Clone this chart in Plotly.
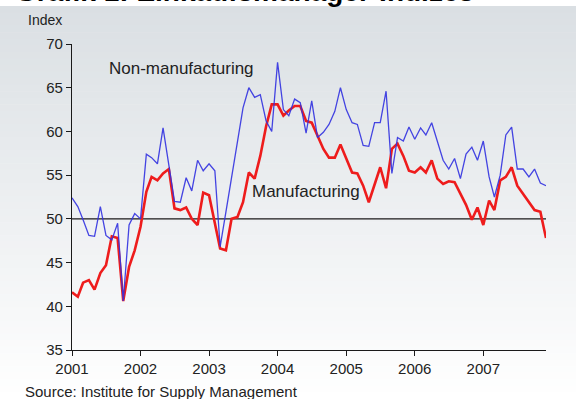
import plotly.graph_objects as go
import pandas as pd

# ---------------- data ----------------
months = pd.date_range("2001-01-01", periods=84, freq="MS").strftime("%Y-%m-%d").tolist()

manufacturing = [
    41.6, 41.1, 42.7, 43.0, 41.9, 43.8, 44.7, 48.0, 47.8, 40.6, 44.5, 46.4,   # 2001
    49.1, 53.1, 54.8, 54.4, 55.2, 55.7, 51.2, 51.0, 51.3, 50.0, 49.3, 53.0,   # 2002
    52.7, 49.7, 46.6, 46.4, 50.0, 50.2, 51.9, 55.3, 54.6, 57.2, 60.6, 63.1,   # 2003
    63.1, 61.8, 62.4, 62.9, 62.9, 61.2, 61.0, 59.5, 58.0, 57.0, 57.0, 58.5,   # 2004
    56.9, 55.3, 55.2, 53.8, 51.9, 54.0, 55.9, 53.5, 58.0, 58.6, 57.2, 55.5,   # 2005
    55.3, 55.9, 55.3, 56.7, 54.6, 54.0, 54.3, 54.2, 52.9, 51.6, 49.9, 51.3,   # 2006
    49.3, 52.1, 51.0, 54.4, 54.8, 55.9, 53.8, 52.9, 51.9, 51.0, 50.8, 47.8,   # 2007
]

non_manufacturing = [
    52.4, 51.4, 49.9, 48.1, 48.0, 51.4, 48.1, 47.6, 49.5, 40.6, 49.3, 50.6,   # 2001
    50.0, 57.4, 57.0, 56.3, 60.4, 55.9, 52.0, 51.9, 54.7, 53.2, 56.7, 55.5,   # 2002
    56.3, 55.5, 46.8, 50.8, 54.8, 59.1, 62.7, 65.0, 63.9, 64.2, 61.2, 60.0,   # 2003
    67.9, 62.5, 61.8, 63.7, 63.3, 59.8, 63.5, 59.3, 59.9, 60.8, 62.3, 65.0,   # 2004
    62.5, 61.0, 60.8, 58.4, 58.3, 61.0, 61.0, 64.6, 55.2, 59.3, 58.9, 60.5,   # 2005
    59.1, 60.4, 59.6, 61.0, 58.8, 56.7, 55.7, 56.9, 54.6, 57.4, 58.2, 56.7,   # 2006
    58.9, 54.8, 52.5, 55.0, 59.6, 60.5, 55.7, 55.7, 54.8, 55.7, 54.1, 53.8,   # 2007
]

year_ticks = ["2001-01-01", "2002-01-01", "2003-01-01", "2004-01-01",
              "2005-01-01", "2006-01-01", "2007-01-01"]
year_labels = ["2001", "2002", "2003", "2004", "2005", "2006", "2007"]
y_ticks = [35, 40, 45, 50, 55, 60, 65, 70]

# ---------------- layout geometry ----------------
W, H = 576, 399
ML, MR, MT, MB = 72, 30, 44, 49
PW, PH = W - ML - MR, H - MT - MB
FONT = "Liberation Sans, Arial, sans-serif"


def px(x):
    return (x - ML) / PW


def py(y):
    return (H - MB - y) / PH


fig = go.Figure()

fig.add_trace(go.Scatter(
    x=months, y=manufacturing, mode="lines", name="Manufacturing",
    line=dict(color="rgb(238,28,28)", width=2.6), showlegend=False,
))
fig.add_trace(go.Scatter(
    x=months, y=non_manufacturing, mode="lines", name="Non-manufacturing",
    line=dict(color="rgb(50,50,225)", width=1.3), opacity=0.9, showlegend=False,
))

# background gradient (light grey at top fading to white)
shapes = []
top, bottom = 6, H
N = 60
c0 = (218, 223, 227)
c1 = (255, 255, 255)
for k in range(N):
    ya = top + (bottom - top) * k / N
    yb = top + (bottom - top) * (k + 1) / N + 0.6
    t = (k + 0.5) / N
    col = tuple(round(c0[j] + (c1[j] - c0[j]) * t) for j in range(3))
    shapes.append(dict(type="rect", xref="paper", yref="paper",
                       x0=px(0), x1=px(W), y0=py(yb), y1=py(ya),
                       fillcolor="rgb(%d,%d,%d)" % col, line=dict(width=0),
                       layer="below"))
# reference line at 50
shapes.append(dict(type="line", xref="paper", yref="y", x0=0, x1=1, y0=50, y1=50,
                   line=dict(color="#1a1a1a", width=1.2), layer="below"))

annotations = [
    dict(text="<b>Grafik 1: Einkaufsmanager-Indizes</b>", xref="paper", yref="paper",
         x=px(13), y=py(9.5), xanchor="left", yanchor="bottom", showarrow=False,
         font=dict(family=FONT, size=28, color="#000")),
    dict(text="Index", xref="paper", yref="paper", x=px(26), y=py(20),
         xanchor="left", yanchor="middle", showarrow=False,
         font=dict(family=FONT, size=14, color="#222")),
    dict(text="Non-manufacturing", xref="paper", yref="paper", x=px(181), y=py(68),
         xanchor="center", yanchor="middle", showarrow=False,
         font=dict(family=FONT, size=17, color="#222")),
    dict(text="Manufacturing", xref="paper", yref="paper", x=px(306), y=py(192),
         xanchor="center", yanchor="middle", showarrow=False,
         font=dict(family=FONT, size=17, color="#222")),
    dict(text="Source: Institute for Supply Management", xref="paper", yref="paper",
         x=px(23), y=py(391), xanchor="left", yanchor="middle", showarrow=False,
         font=dict(family=FONT, size=15, color="#222")),
]

fig.update_layout(
    width=W, height=H,
    margin=dict(l=ML, r=MR, t=MT, b=MB, pad=0),
    paper_bgcolor="white", plot_bgcolor="rgba(0,0,0,0)",
    shapes=shapes, annotations=annotations,
    font=dict(family=FONT, size=15, color="#222"),
    xaxis=dict(type="date", range=[months[0], months[-1]],
               tickvals=year_ticks, ticktext=year_labels,
               showline=True, linecolor="#1a1a1a", linewidth=1.2,
               ticks="outside", ticklen=5, tickwidth=1.2, tickcolor="#1a1a1a",
               showgrid=False, zeroline=False,
               tickfont=dict(family=FONT, size=15, color="#222")),
    yaxis=dict(range=[35, 70], tickvals=y_ticks,
               showline=True, linecolor="#1a1a1a", linewidth=1.2,
               ticks="outside", ticklen=5, tickwidth=1.2, tickcolor="#1a1a1a",
               showgrid=False, zeroline=False,
               tickfont=dict(family=FONT, size=15, color="#222")),
)

fig.write_html(
    "out.html",
    config={"displayModeBar": False},
    post_script="document.body.style.margin='0';document.body.style.padding='0';",
)
